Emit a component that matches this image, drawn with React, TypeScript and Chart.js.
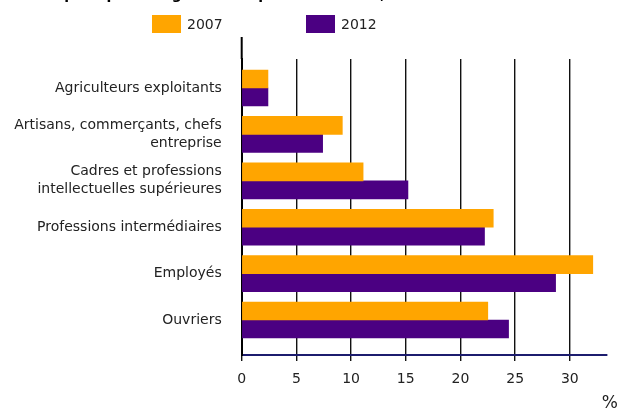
import React, { useEffect, useRef } from "react";
import { Chart, registerables } from "chart.js";

Chart.register(...registerables);

const categories: (string | string[])[] = [
  "Agriculteurs exploitants",
  ["Artisans, commerçants, chefs", "entreprise"],
  ["Cadres et professions", "intellectuelles supérieures"],
  "Professions intermédiaires",
  "Employés",
  "Ouvriers",
];
const seriesNames = ["2007", "2012"];
const values2007 = [2.4, 9.2, 11.1, 23.0, 32.1, 22.5];
const values2012 = [2.4, 7.4, 15.2, 22.2, 28.7, 24.4];
const seriesColors = ["#FFA500", "#4B0082"];
const titleText = "Emplois par catégorie socioprofessionnelle, en %";
const unitLabel = "%";

const FONT = "'DejaVu Sans', Verdana, sans-serif";

const extrasPlugin = {
  id: "extras",
  afterDraw(chart: any) {
    const ctx = chart.ctx;
    const xs = chart.scales.x;
    ctx.save();
    // cut-off title at the very top
    ctx.font = "bold 14px " + FONT;
    ctx.fillStyle = "#000";
    ctx.textAlign = "left";
    ctx.textBaseline = "alphabetic";
    ctx.fillText(titleText, 40, -1);
    // zero line extension above the plot
    const x0 = xs.getPixelForValue(0);
    ctx.strokeStyle = "#000";
    ctx.lineWidth = 2;
    ctx.beginPath();
    ctx.moveTo(x0, 37);
    ctx.lineTo(x0, chart.chartArea.top);
    ctx.stroke();
    // legend
    const boxX = [152, 306];
    ctx.font = "14px " + FONT;
    ctx.textBaseline = "middle";
    chart.data.datasets.forEach((ds: any, i: number) => {
      ctx.fillStyle = ds.backgroundColor;
      ctx.fillRect(boxX[i], 15, 29, 18);
      ctx.fillStyle = "#222";
      ctx.fillText(ds.label, boxX[i] + 35, 25);
    });
    // unit label
    ctx.font = "17px " + FONT;
    ctx.textAlign = "right";
    ctx.textBaseline = "bottom";
    ctx.fillStyle = "#222";
    ctx.fillText(unitLabel, 618, 412);
    ctx.restore();
  },
};

export default function App() {
  const ref = useRef<HTMLCanvasElement | null>(null);
  useEffect(() => {
    if (!ref.current) return;
    Chart.defaults.font.family = FONT;
    const chart = new Chart(ref.current, {
      type: "bar",
      data: {
        datasets: [values2007, values2012].map((vals, si) => ({
          label: seriesNames[si],
          data: vals.map((v, i) => ({ x: v, y: i })),
          backgroundColor: seriesColors[si],
          borderWidth: 0,
          barThickness: 18,
        })),
      },
      plugins: [extrasPlugin],
      options: {
        indexAxis: "y",
        animation: false,
        responsive: true,
        maintainAspectRatio: false,
        layout: { padding: { top: 59, right: 13, bottom: 0, left: 0 } },
        plugins: {
          legend: { display: false },
          title: { display: false },
          tooltip: { enabled: false },
        },
        scales: {
          x: {
            type: "linear",
            position: "bottom",
            min: 0,
            max: 33.4,
            afterFit: (s: any) => {
              s.height = 56;
            },
            ticks: {
              stepSize: 5,
              includeBounds: false,
              color: "#222",
              font: { size: 14 },
              padding: 10,
            },
            grid: {
              color: "#111",
              lineWidth: 1.4,
              drawTicks: true,
              tickLength: 6,
            },
            border: { display: true, color: "#1c1c6e", width: 2 },
          },
          y: {
            type: "linear",
            position: "left",
            reverse: true,
            offset: false,
            min: -0.625,
            max: 5.754,
            afterFit: (s: any) => {
              s.width = 241.7;
            },
            ticks: {
              stepSize: 1,
              includeBounds: false,
              autoSkip: false,
              color: "#222",
              font: { size: 14, lineHeight: 1.29 },
              padding: 20,
              callback: (v: any) =>
                Number.isInteger(v) && v >= 0 && v < categories.length
                  ? (categories[v] as any)
                  : "",
            },
            grid: { display: false, drawTicks: false, offset: false },
            border: { display: true, color: "#000", width: 2 },
          },
        },
      } as any,
    });
    return () => chart.destroy();
  }, []);
  return (
    <div style={{ position: "fixed", left: 0, top: 0, width: 620, height: 411 }}>
      <canvas ref={ref} />
    </div>
  );
}
